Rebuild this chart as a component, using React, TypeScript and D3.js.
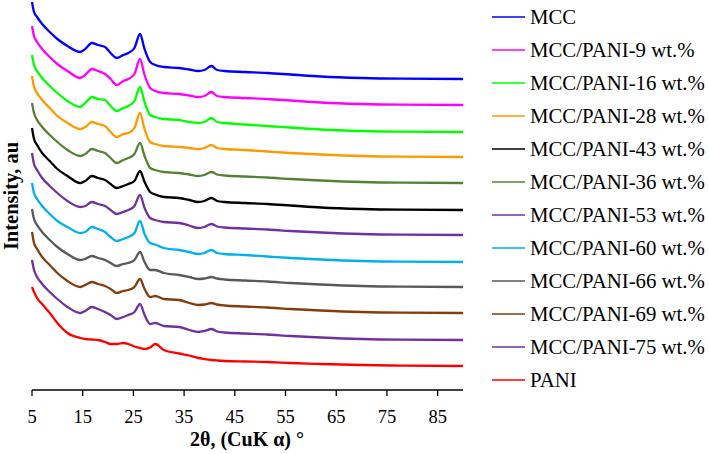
import React from "react";
import * as d3 from "d3";

// 2θ sampling grid (degrees)
const twoTheta = [5, 5.4, 6, 7, 8.5, 10, 12, 14.5, 15.5, 16.8, 18, 19.4, 20.5, 21.7, 23, 24, 25.2, 26.3, 27.2, 28.3, 29.3, 31, 34, 36, 37.8, 39, 40.4, 41.5, 43, 47, 51.4, 56, 62, 70, 78, 90];

// intensity above each trace's own baseline (arbitrary units)
const mcc = [77, 67, 62, 55, 47, 40, 33, 27, 30, 36, 34, 32, 26, 21, 24, 26, 31, 45, 30, 17, 14, 12, 11, 9.5, 8, 9, 13, 9, 8, 7, 6, 4.5, 2.5, 1, 0.3, 0];
const pani9 = [79, 69, 63, 56, 48, 41, 34, 27, 30, 36, 34, 31, 26, 20, 24, 26, 31, 46, 30, 17, 14, 12, 11, 9.5, 8, 9, 13, 9, 8, 7, 6, 4.5, 2.5, 1, 0.3, 0];
const pani16 = [77, 67, 61, 54, 46, 39, 31, 25, 29, 35, 33, 32, 26, 21, 24, 26, 31, 45, 30, 17, 15, 13, 12, 10, 9, 10, 14, 10, 9, 7.5, 6, 4.5, 2.5, 1, 0.3, 0];
const pani28 = [81, 70, 64, 57, 49, 41, 34, 28, 30, 35, 33, 31, 25, 20, 23, 24, 29, 44, 28, 15, 13, 11, 10, 9, 8, 9, 12, 9, 8, 7, 5.5, 4, 2.5, 1, 0.3, 0];
const pani36 = [80, 70, 63, 56, 48, 41, 33, 27, 29, 34, 32, 30, 25, 20, 23, 25, 29, 40, 27, 15, 13, 11, 10, 8.5, 7, 8, 11, 8.5, 7.5, 6.5, 5.5, 4, 2.5, 1, 0.3, 0];
const pani43 = [82, 71, 65, 57, 49, 41, 34, 27, 29, 34, 32, 30, 26, 22, 24, 26, 29, 39, 28, 18, 15.5, 13, 12, 10, 8, 9, 12, 9, 8, 7, 6, 4.5, 2.5, 1, 0.3, 0];
const pani53 = [82, 71, 65, 57, 49, 42, 34, 28, 29, 33, 31, 29, 25, 21, 23, 25, 29, 40, 27, 17, 15, 13, 12, 9.5, 7, 8, 11, 8.5, 7.5, 6.5, 5.5, 4, 2.5, 1, 0.3, 0];
const pani60 = [79, 69, 63, 56, 48, 41, 35, 29, 30, 35, 33, 30, 25, 21, 23, 25, 29, 41, 28, 19, 17.5, 14, 12, 10, 8, 9, 12, 9, 8, 7, 5.5, 4, 2.5, 1, 0.3, 0];
const pani66 = [78, 68, 62, 55, 47, 40, 33, 27, 28, 31, 29, 27, 24, 21, 23, 24, 27, 35, 25, 17, 17, 14, 12, 10, 8, 8.5, 10, 8.5, 7.5, 6.5, 5.5, 4, 2.5, 1, 0.3, 0];
const pani69 = [81, 70, 64, 56, 48, 40, 32, 26, 28, 31, 29, 27, 24, 20, 22, 23, 26, 34, 24, 16, 17, 14, 13, 10, 8, 8.5, 10, 8.5, 7.5, 6.5, 5.5, 4, 2.5, 1, 0.3, 0];
const pani75 = [80, 70, 63, 56, 48, 41, 33, 27, 29, 33, 31, 28, 25, 21, 23, 25, 28, 36, 25, 16, 17, 14, 13, 10, 8, 9, 11, 8.5, 7.5, 6.5, 5.5, 4, 2.5, 1, 0.3, 0];
const pani = [79, 74, 68, 62, 53, 43, 33, 28, 27, 26.5, 26, 24, 22, 22, 23, 22, 19.5, 18, 17, 18.5, 22, 16, 12.5, 10.5, 8, 7, 6, 5.5, 5, 4.5, 4, 3, 2, 1, 0.4, 0];

// vertical stacking offset of each trace (same units)
const offsets = [311, 285, 258, 233, 207, 180, 155, 128, 103, 77, 50, 24];

// plot order (top to bottom)
const plotNames = ["MCC", "MCC/PANI-9 wt.%", "MCC/PANI-16 wt.%", "MCC/PANI-28 wt.%", "MCC/PANI-36 wt.%", "MCC/PANI-43 wt.%", "MCC/PANI-53 wt.%", "MCC/PANI-60 wt.%", "MCC/PANI-66 wt.%", "MCC/PANI-69 wt.%", "MCC/PANI-75 wt.%", "PANI"];
const plotValues = [mcc, pani9, pani16, pani28, pani36, pani43, pani53, pani60, pani66, pani69, pani75, pani];
const plotColors = ["#0000FF", "#FF00FF", "#00FF00", "#FF9900", "#548235", "#000000", "#7030A0", "#00B0F0", "#595959", "#843C0C", "#7030A0", "#FF0000"];

// legend order
const legendNames = ["MCC", "MCC/PANI-9 wt.%", "MCC/PANI-16 wt.%", "MCC/PANI-28 wt.%", "MCC/PANI-43 wt.%", "MCC/PANI-36 wt.%", "MCC/PANI-53 wt.%", "MCC/PANI-60 wt.%", "MCC/PANI-66 wt.%", "MCC/PANI-69 wt.%", "MCC/PANI-75 wt.%", "PANI"];

const xTicks = [5, 15, 25, 35, 45, 55, 65, 75, 85];

const serif: React.CSSProperties = { fontFamily: '"Liberation Serif", "Times New Roman", Times, serif' };

export default function App() {
  const W = 709, H = 454;
  const x = d3.scaleLinear().domain([5, 90]).range([32, 463]);
  const y = d3.scaleLinear().domain([0, 390]).range([390, 0]);
  const axisY = 390;

  const line = d3
    .line<number>()
    .x((_, i) => x(twoTheta[i]))
    .y((d) => d)
    .curve(d3.curveMonotoneX);

  return (
    <svg width={W} height={H} style={{ position: "absolute", left: 0, top: 0, background: "#fff" }}>
      <rect width={W} height={H} fill="#fff" />
      {plotValues.map((vals, k) => (
        <path
          key={plotNames[k]}
          d={line(vals.map((v) => y(v + offsets[k]))) || ""}
          fill="none"
          stroke={plotColors[k]}
          strokeWidth={2.3}
          strokeLinejoin="round"
        />
      ))}
      {/* x axis */}
      <line x1={x(5)} x2={x(90)} y1={axisY} y2={axisY} stroke="#000" strokeWidth={1.3} />
      {xTicks.map((t) => (
        <g key={t}>
          <line x1={x(t)} x2={x(t)} y1={axisY} y2={axisY + 6} stroke="#000" strokeWidth={1.3} />
          <text x={x(t)} y={423} textAnchor="middle" fontSize={18.5} fill="#000" style={serif}>
            {t}
          </text>
        </g>
      ))}
      <text x={247} y={446} textAnchor="middle" fontSize={20} fontWeight="bold" fill="#000" style={serif}>
        2θ, (CuK α) °
      </text>
      <text transform="translate(18,196) rotate(-90)" textAnchor="middle" fontSize={20.5} fontWeight="bold" fill="#000" style={serif}>
        Intensity, au
      </text>
      {/* legend */}
      {legendNames.map((n, i) => {
        const k = plotNames.indexOf(n);
        const ly = 17 + i * 33;
        return (
          <g key={n}>
            <line x1={492} x2={525} y1={ly} y2={ly} stroke={plotColors[k]} strokeWidth={1.5} />
            <text x={530} y={ly + 7} fontSize={20.8} fill="#000" style={serif}>
              {n}
            </text>
          </g>
        );
      })}
    </svg>
  );
}
